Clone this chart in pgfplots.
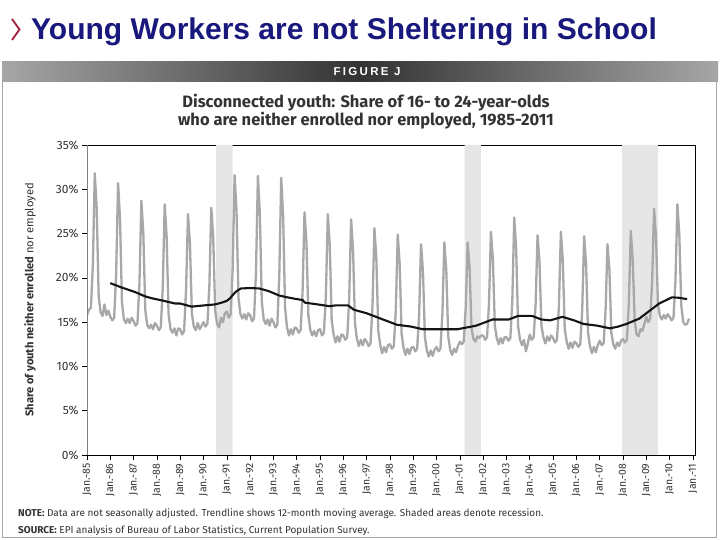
\documentclass[border=0pt]{standalone}
\usepackage{pgfplots}
\pgfplotsset{compat=1.18}
\usepackage{fontspec}
\setmainfont{Fira Sans}
\newfontfamily\titlefont{Liberation Sans}
\newfontfamily\bannerfont[LetterSpace=20]{Liberation Sans}

\definecolor{navytitle}{RGB}{24,24,125}
\definecolor{chev}{RGB}{165,30,60}
\definecolor{rawgray}{RGB}{168,168,168}
\definecolor{recess}{RGB}{230,230,230}
\definecolor{txt}{RGB}{51,51,51}

\begin{document}
\begin{tikzpicture}[x=1bp,y=1bp]
\useasboundingbox (0,0) rectangle (720,540);
\fill[white] (0,0) rectangle (720,540);

% slide title
\draw[chev, line width=1.8bp] (12,521) -- (19.5,510.5) -- (12,500);
\node[anchor=base west, inner sep=0, text=navytitle] at (31,500)
  {\titlefont\fontsize{30bp}{32bp}\selectfont\bfseries Young Workers are not Sheltering in School};

% figure banner and frame
\shade[left color=black!35, right color=black!35, middle color=black!80] (2,458) rectangle (718,478);
\node[text=white] at (367,468) {\bannerfont\fontsize{11.5bp}{13bp}\selectfont\bfseries FIGURE J};
\draw[gray!70, line width=0.8bp] (2,458) -- (2,3) -- (716,3) -- (716,458);

% chart title
\node[align=center, text=txt, font=\bfseries\fontsize{16.5bp}{18bp}\selectfont] at (366,428)
  {Disconnected youth: Share of 16- to 24-year-olds\\who are neither enrolled nor employed, 1985-2011};

% y label
\node[rotate=90, text=txt, font=\fontsize{11.2bp}{13bp}\selectfont] at (30,240)
  {\textbf{Share of youth neither enrolled} nor employed};

% notes
\node[anchor=base west, inner sep=0, text=txt, font=\fontsize{10bp}{11bp}\selectfont] at (18,23)
  {\textbf{NOTE:} Data are not seasonally adjusted. Trendline shows 12-month moving average. Shaded areas denote recession.};
\node[anchor=base west, inner sep=0, text=txt, font=\fontsize{10bp}{11bp}\selectfont] at (18,6)
  {\textbf{SOURCE:} EPI analysis of Bureau of Labor Statistics, Current Population Survey.};

\begin{axis}[
  at={(87bp,85bp)}, anchor=south west,
  scale only axis, width=608bp, height=310bp,
  xmin=1985, xmax=2011.09, ymin=0, ymax=35,
  ytick={0,5,...,35},
  yticklabels={0\%,5\%,10\%,15\%,20\%,25\%,30\%,35\%},
  xtick={1985,...,2011},
  xticklabels={Jan.-85,Jan.-86,Jan.-87,Jan.-88,Jan.-89,Jan.-90,Jan.-91,Jan.-92,Jan.-93,
    Jan.-94,Jan.-95,Jan.-96,Jan.-97,Jan.-98,Jan.-99,Jan.-00,Jan.-01,Jan.-02,Jan.-03,
    Jan.-04,Jan.-05,Jan.-06,Jan.-07,Jan.-08,Jan.-09,Jan.-10,Jan.-11},
  xticklabel style={rotate=90, anchor=east, font=\fontsize{10.5bp}{12bp}\selectfont, text=txt},
  yticklabel style={font=\fontsize{12bp}{14bp}\selectfont, text=txt},
  tick align=outside, tick pos=left,
  major tick length=5bp,
  tick style={black, line width=0.6bp},
  axis line style={black, line width=0.8bp},
]
% recessions
\addplot[fill=recess, draw=none] coordinates {(1990.54,0) (1990.54,35) (1991.25,35) (1991.25,0)} \closedcycle;
\addplot[fill=recess, draw=none] coordinates {(2001.2,0) (2001.2,35) (2001.9,35) (2001.9,0)} \closedcycle;
\addplot[fill=recess, draw=none] coordinates {(2007.96,0) (2007.96,35) (2009.5,35) (2009.5,0)} \closedcycle;

% monthly share, not seasonally adjusted
\addplot[rawgray, line width=2.3bp, line join=round] table[row sep=\\, x expr=1985+\coordindex/12, y=v] {
v\\
15.8\\16.4\\16.6\\21.3\\31.8\\27.8\\18.0\\16.1\\15.7\\17.0\\15.8\\16.3\\
15.6\\15.2\\15.5\\20.4\\30.7\\26.7\\17.2\\15.3\\14.9\\15.4\\14.9\\15.5\\
15.1\\14.6\\14.9\\19.3\\28.7\\25.1\\16.4\\14.7\\14.3\\14.7\\14.2\\14.9\\
14.6\\14.1\\14.4\\18.8\\28.3\\24.7\\15.9\\14.2\\13.8\\14.3\\13.5\\14.3\\
14.2\\13.6\\14.0\\18.6\\27.2\\23.9\\16.0\\14.5\\14.1\\14.9\\14.2\\14.6\\
15.0\\14.5\\14.8\\19.1\\27.9\\24.5\\16.3\\14.8\\14.4\\15.5\\15.0\\16.0\\
16.2\\15.5\\15.9\\21.0\\31.6\\27.5\\17.7\\15.9\\15.4\\15.9\\15.3\\16.0\\
15.8\\15.1\\15.4\\20.6\\31.5\\27.3\\17.3\\15.3\\14.8\\15.3\\14.6\\15.4\\
15.0\\14.4\\14.7\\20.1\\31.3\\27.0\\16.6\\14.4\\13.5\\14.2\\13.6\\14.4\\
14.3\\13.8\\14.1\\18.4\\27.4\\24.0\\15.7\\14.1\\13.5\\14.0\\13.4\\14.1\\
14.2\\13.5\\13.8\\18.0\\27.2\\23.7\\15.2\\13.6\\12.7\\13.4\\12.8\\13.6\\
13.5\\13.0\\13.3\\17.6\\26.6\\23.1\\14.8\\13.1\\12.3\\13.0\\12.4\\13.1\\
12.8\\12.3\\12.6\\16.8\\25.6\\22.2\\14.0\\12.4\\11.5\\12.2\\11.6\\12.4\\
12.5\\12.0\\12.3\\16.3\\24.9\\21.6\\13.7\\12.1\\11.3\\12.0\\11.4\\12.1\\
12.2\\11.7\\12.0\\15.7\\23.8\\20.7\\13.3\\11.8\\11.1\\11.8\\11.2\\11.9\\
12.2\\11.7\\12.0\\15.9\\24.0\\20.9\\13.4\\11.9\\11.3\\12.0\\11.6\\12.3\\
12.8\\12.5\\12.8\\16.6\\24.0\\21.2\\14.3\\13.1\\12.8\\13.4\\13.2\\13.5\\
13.5\\13.0\\13.3\\17.1\\25.2\\22.1\\14.6\\13.2\\12.5\\13.2\\12.6\\13.3\\
13.3\\12.9\\13.2\\17.4\\26.8\\23.2\\14.5\\13.0\\12.4\\13.0\\11.7\\12.6\\
13.6\\13.0\\13.3\\17.0\\24.8\\21.8\\14.6\\13.3\\12.6\\13.4\\12.9\\13.5\\
13.2\\12.7\\13.0\\16.8\\25.2\\22.0\\14.2\\12.8\\12.0\\12.7\\12.1\\12.8\\
12.6\\12.2\\12.5\\16.4\\24.7\\21.5\\13.8\\12.3\\11.5\\12.2\\11.6\\12.4\\
12.9\\12.4\\12.6\\16.1\\23.8\\20.9\\13.8\\12.5\\12.0\\12.7\\12.3\\12.9\\
13.1\\12.7\\13.0\\17.0\\25.3\\22.1\\15.2\\13.6\\13.4\\14.2\\14.0\\14.8\\
15.6\\15.0\\15.4\\19.5\\27.8\\24.6\\17.0\\15.7\\15.3\\15.8\\15.4\\15.9\\
15.6\\15.2\\15.5\\19.6\\28.3\\24.9\\16.9\\15.0\\14.7\\14.8\\15.4\\
};

% 12-month moving average
\addplot[black!92, line width=2.1bp, line join=round] coordinates {
(1986.0,19.4) (1986.5,18.9) (1987.06,18.4) (1987.5,17.9) (1987.78,17.7)
(1988.3,17.4) (1988.78,17.1) (1989.0,17.1) (1989.49,16.75) (1990.06,16.9)
(1990.5,17.0) (1990.78,17.2) (1991.0,17.4) (1991.14,17.7) (1991.3,18.2)
(1991.42,18.5) (1991.6,18.8) (1992.0,18.85) (1992.4,18.8) (1992.8,18.5)
(1993.25,18.0) (1993.6,17.8) (1994.0,17.6) (1994.25,17.5) (1994.35,17.2)
(1994.9,17.0) (1995.4,16.8) (1995.7,16.9) (1996.2,16.9) (1996.45,16.4)
(1997.0,16.0) (1997.3,15.7) (1997.8,15.2) (1998.3,14.7) (1998.9,14.5)
(1999.4,14.2) (2000.0,14.2) (2000.4,14.2) (2000.9,14.2) (2001.3,14.4)
(2001.7,14.6) (2002.0,14.9) (2002.4,15.3) (2003.1,15.3) (2003.5,15.7)
(2004.1,15.7) (2004.5,15.3) (2004.87,15.2) (2005.4,15.6) (2005.9,15.2)
(2006.3,14.8) (2006.9,14.6) (2007.44,14.3) (2007.8,14.5) (2008.15,14.8)
(2008.7,15.4) (2009.1,16.2) (2009.55,17.1) (2010.1,17.8) (2010.4,17.75)
(2010.75,17.6)
};

% left spine is grey in the original
\draw[gray, line width=0.8bp] (rel axis cs:0,0) -- (rel axis cs:0,1);
\end{axis}
\end{tikzpicture}
\end{document}
